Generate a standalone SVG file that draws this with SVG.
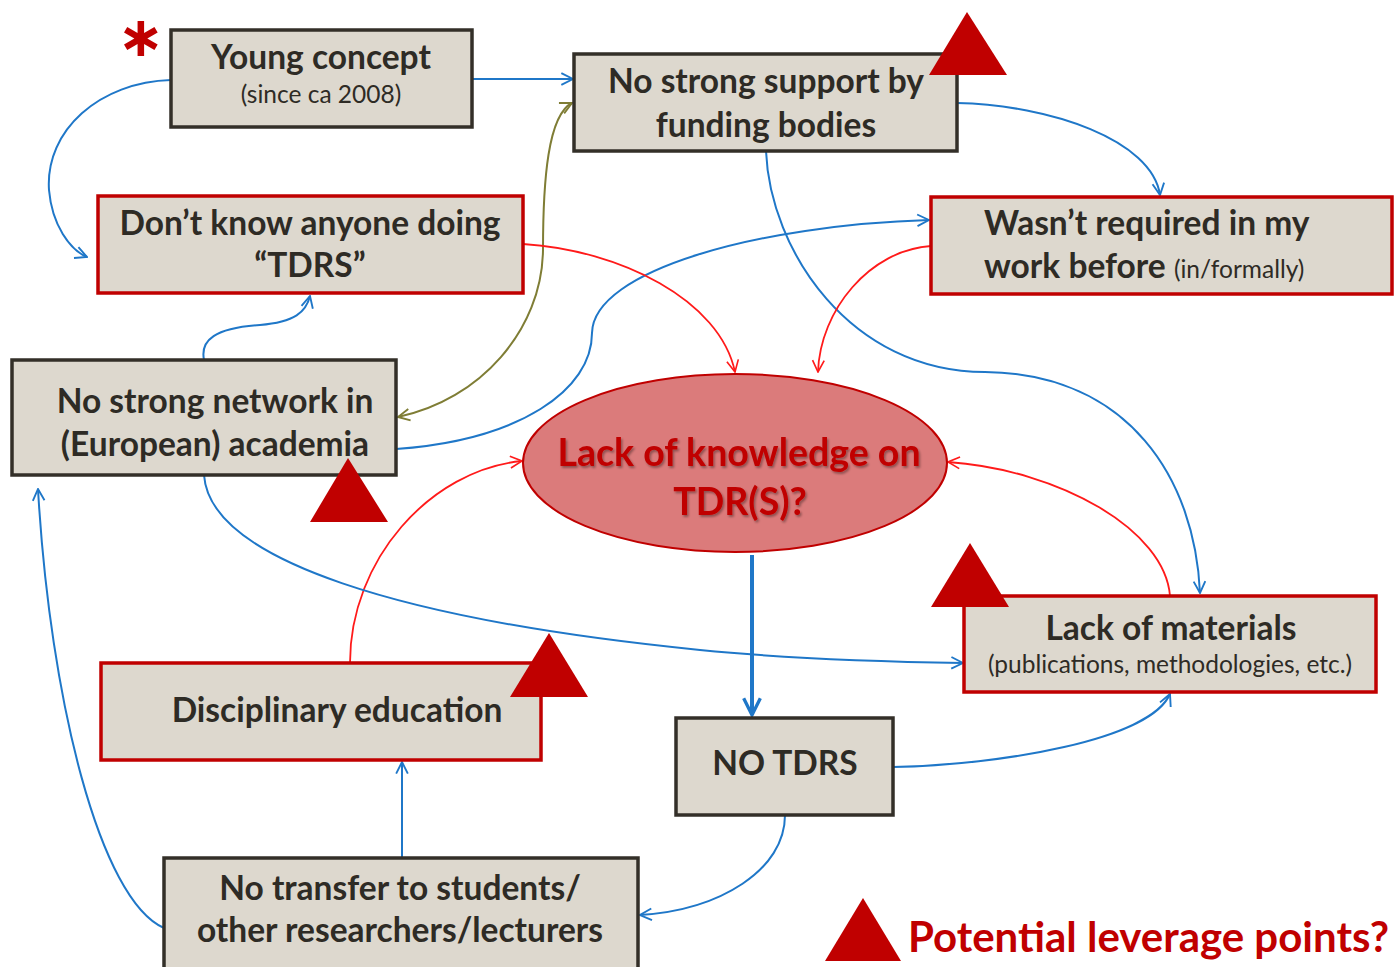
<svg xmlns="http://www.w3.org/2000/svg" width="1400" height="967" viewBox="0 0 1400 967">
<style>
.box{fill:#ddd8ce;stroke:#332f28;stroke-width:3.5}
.rbox{fill:#ddd8ce;stroke:#c00000;stroke-width:3.5}
.t{font-family:Lato,"Open Sans","Liberation Sans",sans-serif;font-weight:bold;font-size:33.5px;fill:#2e2b25;text-anchor:middle}
.st{text-anchor:start}
.s{font-family:Lato,"Open Sans","Liberation Sans",sans-serif;font-weight:normal;font-size:24.5px;fill:#2e2b25;text-anchor:middle}
.b{fill:none;stroke:#1f77c8;stroke-width:2}
.r{fill:none;stroke:#ff1a1a;stroke-width:1.8}
.o{fill:none;stroke:#7f7d35;stroke-width:2}
.tri{fill:#c00000}
.et{font-family:Lato,"Open Sans","Liberation Sans",sans-serif;font-weight:bold;font-size:37.5px;fill:#c00000;text-anchor:middle}
</style>
<defs>
<marker id="ab" viewBox="0 0 12 12" refX="11" refY="6" markerWidth="14" markerHeight="14" markerUnits="userSpaceOnUse" orient="auto-start-reverse"><path d="M1,1 L11,6 L1,11" fill="none" stroke="#1f77c8" stroke-width="1.6"/></marker>
<marker id="abt" viewBox="0 0 12 12" refX="11" refY="6" markerWidth="20" markerHeight="20" markerUnits="userSpaceOnUse" orient="auto-start-reverse"><path d="M1,1 L11,6 L1,11" fill="none" stroke="#1f77c8" stroke-width="2"/></marker>
<marker id="ar" viewBox="0 0 12 12" refX="11" refY="6" markerWidth="14" markerHeight="14" markerUnits="userSpaceOnUse" orient="auto-start-reverse"><path d="M1,1 L11,6 L1,11" fill="none" stroke="#ff1a1a" stroke-width="1.4"/></marker>
<marker id="ao" viewBox="0 0 12 12" refX="11" refY="6" markerWidth="14" markerHeight="14" markerUnits="userSpaceOnUse" orient="auto-start-reverse"><path d="M1,1 L11,6 L1,11" fill="none" stroke="#7f7d35" stroke-width="1.6"/></marker>
<filter id="sh" x="-10%" y="-10%" width="120%" height="130%"><feDropShadow dx="1.5" dy="2" stdDeviation="1.2" flood-color="#000" flood-opacity="0.35"/></filter>
</defs>
<rect width="1400" height="967" fill="#fff"/>

<g id="connectors">
<path class="b" d="M472,79 L573,79" marker-end="url(#ab)"/>
<path class="b" d="M171,80 C100,82 45,130 49,190 C52,225 70,250 87,257" marker-end="url(#ab)"/>
<path class="b" d="M204,360 C200,340 215,328 260,325 C295,322 306,312 310,296" marker-end="url(#ab)"/>
<path class="o" d="M572,103 C548,115 543,180 543,250 C542,330 480,400 398,417" marker-start="url(#ao)" marker-end="url(#ao)"/>
<path class="b" d="M396,449 C520,440 592,390 592,333 C593,270 760,225 929,220" marker-end="url(#ab)"/>
<path class="b" d="M766,151 C770,250 850,372 985,372 C1130,374 1195,480 1200,593" marker-end="url(#ab)"/>
<path class="b" d="M957,103 C1050,105 1152,140 1160,195" marker-end="url(#ab)"/>
<path class="r" d="M523,244 C620,250 720,300 735,372" marker-end="url(#ar)"/>
<path class="r" d="M931,246 C870,250 820,310 818,372" marker-end="url(#ar)"/>
<path class="r" d="M1170,596 C1165,530 1060,470 948,462" marker-end="url(#ar)"/>
<path class="r" d="M350,663 C350,560 430,470 522,461" marker-end="url(#ar)"/>
<path d="M752,555 L752,715" fill="none" stroke="#1f77c8" stroke-width="4" marker-end="url(#abt)"/>
<path class="b" d="M204,475 C210,560 400,620 700,650 C800,660 900,662 963,663" marker-end="url(#ab)"/>
<path class="b" d="M893,767 C1000,765 1150,740 1170,694" marker-end="url(#ab)"/>
<path class="b" d="M785,815 C785,870 720,910 640,915" marker-end="url(#ab)"/>
<path class="b" d="M402,857 L402,762" marker-end="url(#ab)"/>
<path class="b" d="M164,928 C100,900 50,700 38,489" marker-end="url(#ab)"/>
</g>

<g id="young">
<rect class="box" x="171" y="30" width="301" height="97"/>
<text class="t" x="321" y="69">Young concept</text>
<text class="s" x="321" y="103">(since ca 2008)</text>
</g>
<g id="asterisk"><text x="141" y="56" font-family="'DejaVu Sans',sans-serif" font-weight="bold" font-size="56" fill="#c00000" text-anchor="middle">∗</text></g>

<g id="funding">
<rect class="box" x="574" y="54" width="383" height="97"/>
<text class="t" x="766" y="93">No strong support by</text>
<text class="t" x="766" y="137">funding bodies</text>
<polygon class="tri" points="967,12 1007,75 929,75"/>
</g>

<g id="dontknow">
<rect class="rbox" x="98" y="196" width="425" height="97"/>
<text class="t" x="310" y="235">Don’t know anyone doing</text>
<text class="t" x="310" y="277">“TDRS”</text>
</g>

<g id="required">
<rect class="rbox" x="931" y="197" width="461" height="97"/>
<text class="t st" x="984" y="235">Wasn’t required in my</text>
<text class="t st" x="984" y="278">work before <tspan style="font-weight:normal;font-size:24.5px">(in/formally)</tspan></text>
</g>

<g id="network">
<rect class="box" x="12" y="360" width="384" height="115"/>
<text class="t" x="215" y="413">No strong network in</text>
<text class="t" x="215" y="456">(European) academia</text>
<polygon class="tri" points="348,458 388,522 310,522"/>
</g>

<g id="lack">
<ellipse cx="735" cy="463" rx="212" ry="89" fill="#db7b7b" stroke="#c00000" stroke-width="2"/>
<g filter="url(#sh)">
<text class="et" x="739" y="466">Lack of knowledge on</text>
<text class="et" x="740" y="515">TDR(S)?</text>
</g>
</g>

<g id="materials">
<rect class="rbox" x="964" y="596" width="412" height="96"/>
<text class="t" x="1171" y="640">Lack of materials</text>
<text class="s" x="1170" y="673">(publications, methodologies, etc.)</text>
<polygon class="tri" points="970,543 1009,607 931,607"/>
</g>

<g id="disciplinary">
<rect class="rbox" x="101" y="663" width="440" height="97"/>
<text class="t" x="337" y="722">Disciplinary education</text>
<polygon class="tri" points="549,633 588,697 510,697"/>
</g>

<g id="notdrs">
<rect class="box" x="676" y="718" width="217" height="97"/>
<text class="t" x="785" y="775">NO TDRS</text>
</g>

<g id="transfer">
<rect class="box" x="164" y="858" width="474" height="120"/>
<text class="t" x="400" y="900">No transfer  to students/</text>
<text class="t" x="400" y="942">other researchers/lecturers</text>
</g>

<g id="legend">
<polygon class="tri" points="863,898 901,961 825,961"/>
<text x="908" y="952" font-family="Lato,'Open Sans','Liberation Sans',sans-serif" font-weight="bold" font-size="42" fill="#c00000">Potential leverage points?</text>
</g>
</svg>
